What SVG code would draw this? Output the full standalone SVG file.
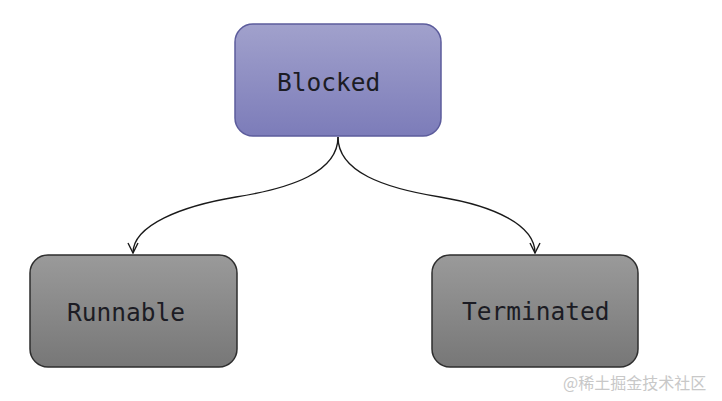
<svg xmlns="http://www.w3.org/2000/svg" width="722" height="401" viewBox="0 0 722 401">
<style>
.lbl{font-family:"DejaVu Sans Mono","Liberation Mono",monospace;font-size:24.5px;fill:#1c1c24}
.edge{fill:none;stroke:#1a1a1a;stroke-width:1.4}
.gray{fill:url(#gGray);stroke:#2e2e2e;stroke-width:1.5}
</style>
<defs>
<linearGradient id="gPurple" x1="0" y1="0" x2="0" y2="1">
<stop offset="0" stop-color="#a1a1cc"/>
<stop offset="1" stop-color="#7c7cb9"/>
</linearGradient>
<linearGradient id="gGray" x1="0" y1="0" x2="0" y2="1">
<stop offset="0" stop-color="#9a9a9a"/>
<stop offset="1" stop-color="#777777"/>
</linearGradient>
<marker id="arr" viewBox="0 0 12 12" refX="11" refY="6" markerWidth="12" markerHeight="12" markerUnits="userSpaceOnUse" orient="auto">
<path d="M1,1 L11,6 L1,11" fill="none" stroke="#1a1a1a" stroke-width="1.4"/>
</marker>
</defs>
<rect width="722" height="401" fill="#ffffff"/>
<g id="connectors">
<path class="edge" d="M338,137 C338,172 292,188 236,197 C182,206 133,225 133,253" marker-end="url(#arr)"/>
<path class="edge" d="M338,137 C338,172 384,188 440,197 C494,206 535,225 535,253" marker-end="url(#arr)"/>
</g>
<g id="blocked">
<rect x="235" y="24" width="206" height="112" rx="18" fill="url(#gPurple)" stroke="#5c5c9c" stroke-width="1.5"/>
<text class="lbl" x="277" y="91">Blocked</text>
</g>
<g id="runnable">
<rect class="gray" x="30" y="255" width="207" height="112" rx="18"/>
<text class="lbl" x="67" y="321">Runnable</text>
</g>
<g id="terminated">
<rect class="gray" x="432" y="255" width="206" height="112" rx="18"/>
<text class="lbl" x="462" y="320">Terminated</text>
</g>
<text x="563" y="389" font-family="'Noto Sans CJK SC',sans-serif" font-size="16" fill="#c8c8c8">@稀土掘金技术社区</text>
</svg>
